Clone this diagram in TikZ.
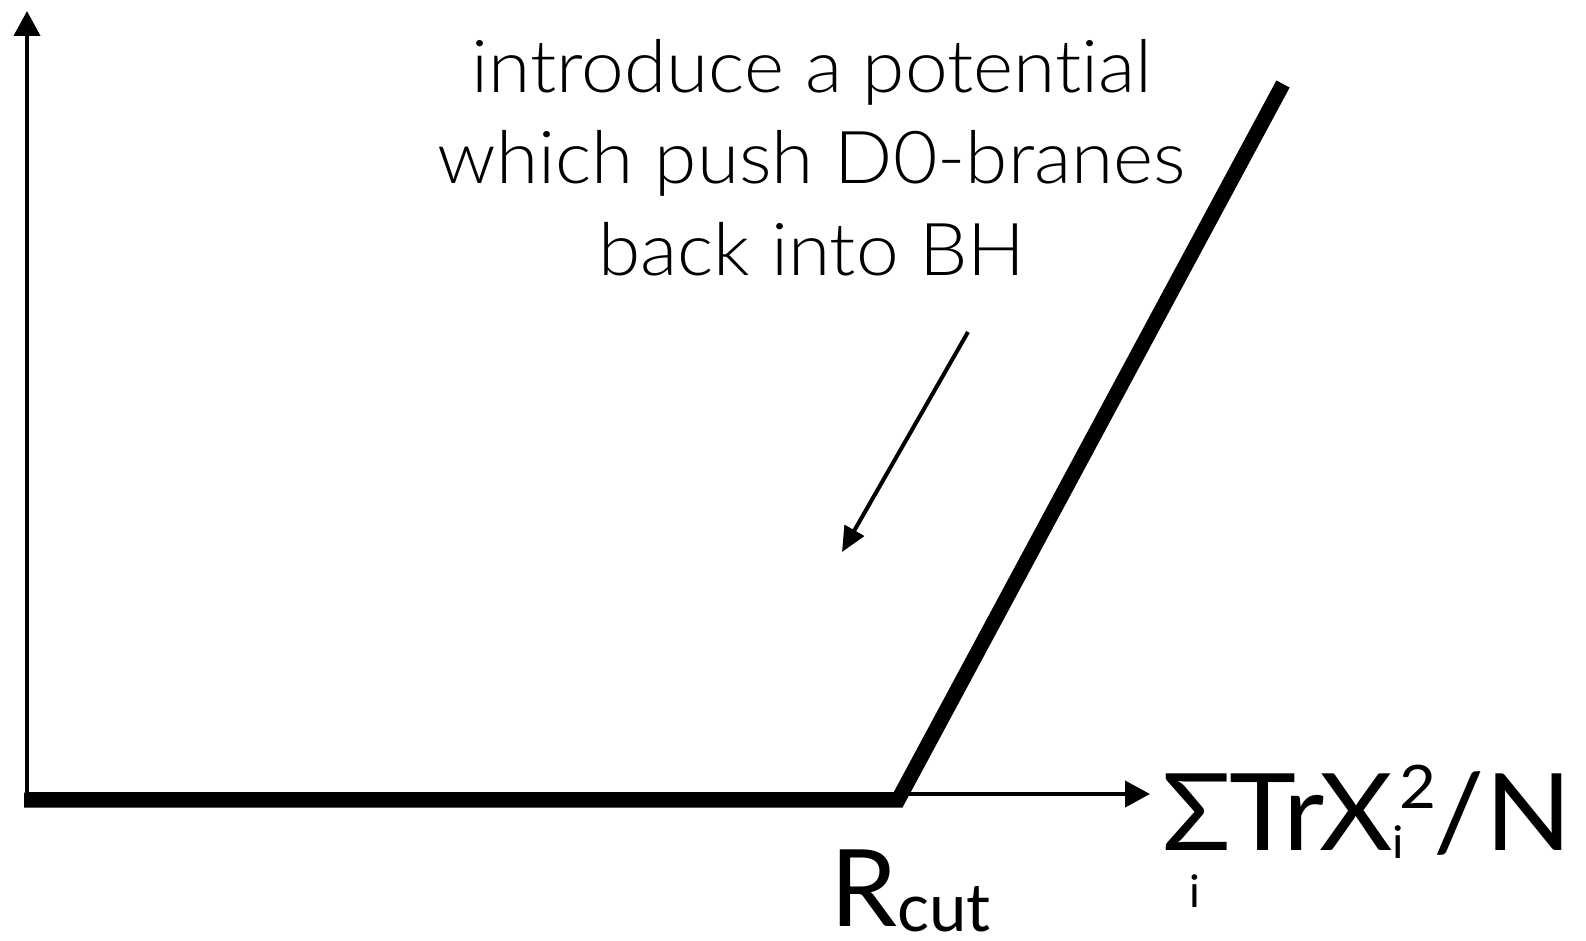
\documentclass[tikz,border=0pt]{standalone}
\usepackage{fontspec}
\setmainfont{Lato}
\newfontfamily\lightfont{Lato Light}[Ligatures=NoCommon, FakeStretch=1.05]
\newfontfamily\widefont{Lato}[FakeStretch=1.06]
\usetikzlibrary{arrows.meta}

\tikzset{
  axis/.style={line width=4pt, -{Triangle[length=25pt,width=26pt]}},
  pointer/.style={line width=4pt, -{Triangle[length=25pt,width=22pt]}},
  potential/.style={line width=15pt, line join=miter},
  note/.style={anchor=base, inner sep=0pt, font=\lightfont\fontsize{73}{73}\selectfont},
  biglabel/.style={anchor=base west, inner sep=0pt, text depth=0pt, font=\fontsize{107}{107}\selectfont},
}

\begin{document}
\begin{tikzpicture}[x=1pt, y=-1pt]
  \useasboundingbox (0,0) rectangle (1586,941);

  % axes
  \coordinate (O) at (27,794);
  \coordinate (ytip) at (27,11);
  \coordinate (xtip) at (1150,794);
  \draw[axis] (27,800) -- (ytip);
  \draw[axis] (O) -- (xtip);

  % flat potential up to the cut-off, then a linear wall
  \coordinate (p0) at (24,800);
  \coordinate (kink) at (898,800);
  \coordinate (ptop) at (1283,84);
  \draw[potential] (p0) -- (kink) -- (ptop);

  % annotation
  \node[note] (t1) at (812,93) {introduce a potential};
  \node[note] (t2) at (812,184) {which push D0-branes};
  \node[note] (t3) at (812,275) {back into BH};
  \coordinate (pfrom) at (968,332);
  \coordinate (pto) at (842,552);
  \draw[pointer] (pfrom) -- (pto);

  % axis labels
  \node[biglabel] (rcut) at (830,926)
    {R\raisebox{-5pt}{\fontsize{67}{67}\selectfont cut}};
  \node[biglabel, font=\widefont\fontsize{107}{107}\selectfont] (xlabel) at (1162,850)
    {Σ\kern-2pt TrX\raisebox{-8pt}{\fontsize{45}{45}\selectfont i}\kern-5pt\raisebox{42pt}{\fontsize{60}{60}\selectfont 2}\kern-2pt/N};
  \node[anchor=base, inner sep=0pt, font=\fontsize{45}{45}\selectfont] (sumidx) at (1195,907) {i};
\end{tikzpicture}
\end{document}
